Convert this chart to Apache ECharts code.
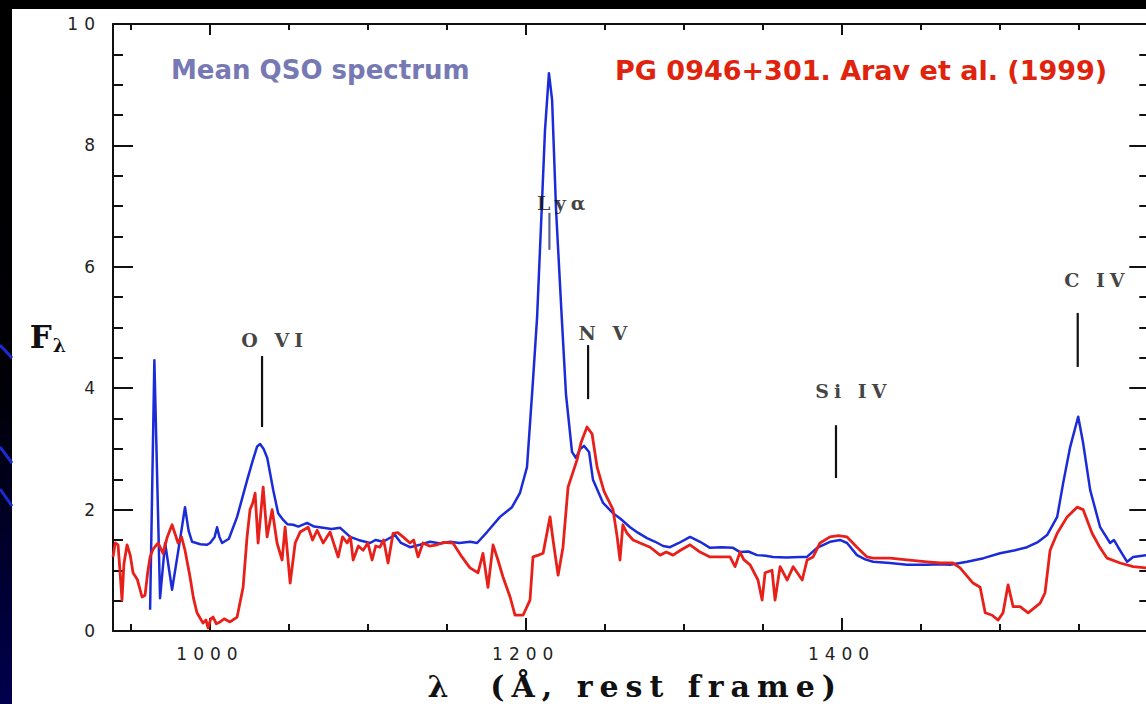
<!DOCTYPE html>
<html><head><meta charset="utf-8">
<script src="https://cdn.jsdelivr.net/npm/echarts@6/dist/echarts.min.js"></script>
<style>
html,body{margin:0;padding:0;background:#fff;}
#c{width:1146px;height:704px;}
svg text[style*="tkfont"]{letter-spacing:6px;}
svg text[style*="lblfont"]{letter-spacing:5px;}
svg text[style*="ttlfont"]{letter-spacing:7px;}
</style></head><body><div id="c"></div>
<script>
// ---- data (wavelength in Angstrom, flux F_lambda) ----
const meanQSO = [[962.1,0.35],[964.8,4.46],[968.4,0.54],[971.6,1.45],[976.0,0.68],[979.8,1.30],[982.5,1.75],[984.2,2.04],[986.5,1.65],[988.7,1.47],[994.0,1.43],[998.0,1.42],[1000.1,1.45],[1003.0,1.55],[1004.5,1.71],[1006.0,1.55],[1007.7,1.45],[1012.0,1.52],[1017.2,1.88],[1023.6,2.49],[1027.0,2.80],[1029.9,3.04],[1031.8,3.08],[1034.0,3.00],[1036.3,2.85],[1040.1,2.32],[1043.2,1.94],[1046.4,1.83],[1049.0,1.76],[1052.7,1.75],[1056.0,1.72],[1061.5,1.78],[1066.0,1.72],[1071.7,1.70],[1077.0,1.68],[1082.5,1.70],[1088.8,1.55],[1094.0,1.50],[1101.4,1.45],[1105.0,1.50],[1109.6,1.47],[1113.0,1.52],[1117.2,1.58],[1121.0,1.45],[1126.7,1.38],[1133.0,1.42],[1139.4,1.47],[1146.0,1.44],[1152.1,1.47],[1158.0,1.45],[1164.8,1.47],[1169.2,1.45],[1175.5,1.63],[1183.7,1.88],[1191.3,2.04],[1196.3,2.27],[1200.8,2.70],[1204.6,4.13],[1207.2,5.17],[1210.1,6.94],[1212.2,8.25],[1214.7,9.19],[1216.7,8.75],[1219.2,6.94],[1222.8,5.17],[1225.5,3.90],[1229.3,2.95],[1231.8,2.85],[1234.5,3.00],[1236.9,3.05],[1240.1,2.95],[1242.6,2.49],[1249.0,2.11],[1255.3,1.94],[1260.0,1.85],[1266.1,1.71],[1271.0,1.62],[1276.8,1.53],[1282.0,1.47],[1287.0,1.40],[1291.4,1.38],[1297.0,1.45],[1304.1,1.55],[1310.4,1.47],[1316.7,1.37],[1324.0,1.38],[1331.3,1.37],[1335.7,1.30],[1341.0,1.31],[1346.5,1.25],[1352.0,1.24],[1356.6,1.22],[1365.0,1.21],[1373.7,1.22],[1378.1,1.22],[1384.5,1.37],[1392.7,1.47],[1399.0,1.50],[1403.5,1.45],[1409.8,1.25],[1415.0,1.18],[1420.0,1.14],[1430.7,1.12],[1441.5,1.09],[1454.2,1.09],[1462.0,1.10],[1468.7,1.09],[1479.5,1.14],[1490.0,1.20],[1500.4,1.28],[1510.0,1.33],[1517.5,1.38],[1524.0,1.46],[1530.2,1.58],[1536.6,1.88],[1540.4,2.44],[1544.8,3.03],[1549.9,3.53],[1553.0,3.10],[1557.5,2.32],[1563.8,1.71],[1570.1,1.45],[1572.5,1.50],[1575.2,1.38],[1580.9,1.14],[1584.7,1.22],[1592.9,1.25]];

const pg0946 = [[938.6,1.22],[940.0,1.45],[941.8,1.42],[943.0,1.00],[944.3,0.51],[945.5,1.10],[947.5,1.42],[949.5,1.25],[951.3,0.96],[954.0,0.85],[957.0,0.56],[958.9,0.59],[960.5,0.95],[962.1,1.22],[964.0,1.35],[967.2,1.45],[970.3,1.28],[973.0,1.55],[976.0,1.75],[979.8,1.45],[982.0,1.55],[984.2,1.33],[987.4,0.89],[989.5,0.55],[991.8,0.30],[995.6,0.13],[997.5,0.18],[998.8,0.05],[1000.5,0.20],[1002.0,0.23],[1004.0,0.12],[1006.4,0.15],[1009.0,0.20],[1012.7,0.15],[1017.2,0.23],[1021.0,0.72],[1023.5,1.55],[1025.4,2.00],[1027.0,2.10],[1028.6,2.27],[1030.5,1.45],[1033.7,2.37],[1036.2,1.55],[1039.4,2.00],[1042.5,1.45],[1045.7,1.17],[1047.6,1.71],[1050.8,0.79],[1054.0,1.45],[1057.1,1.63],[1062.2,1.71],[1065.0,1.50],[1067.9,1.66],[1071.7,1.45],[1076.1,1.63],[1081.2,1.22],[1084.0,1.55],[1086.9,1.45],[1089.0,1.55],[1090.7,1.17],[1094.0,1.40],[1097.0,1.33],[1100.0,1.45],[1102.7,1.17],[1105.0,1.40],[1107.7,1.38],[1110.0,1.50],[1112.8,1.12],[1116.0,1.61],[1119.0,1.62],[1122.3,1.55],[1126.7,1.45],[1129.0,1.50],[1131.8,1.22],[1134.9,1.45],[1139.0,1.40],[1143.8,1.42],[1148.0,1.46],[1153.9,1.45],[1159.6,1.22],[1164.7,1.04],[1169.8,0.96],[1172.9,1.28],[1176.1,0.72],[1179.3,1.42],[1182.4,1.17],[1185.6,0.89],[1190.1,0.56],[1193.2,0.26],[1198.3,0.26],[1202.7,0.51],[1204.6,1.22],[1208.0,1.25],[1211.0,1.28],[1215.4,1.88],[1217.3,1.50],[1220.5,0.92],[1223.6,1.38],[1226.8,2.37],[1232.5,2.82],[1235.0,3.10],[1238.8,3.36],[1242.0,3.25],[1245.2,2.70],[1249.6,2.30],[1255.3,2.00],[1257.9,1.55],[1259.7,1.17],[1261.5,1.75],[1264.2,1.61],[1268.0,1.50],[1272.4,1.45],[1278.8,1.38],[1285.1,1.25],[1289.0,1.30],[1293.3,1.25],[1298.0,1.33],[1304.1,1.42],[1310.4,1.30],[1316.7,1.22],[1323.0,1.22],[1329.4,1.22],[1332.6,1.06],[1335.7,1.30],[1338.0,1.18],[1342.1,1.09],[1347.1,0.84],[1349.7,0.51],[1351.6,0.96],[1356.0,1.00],[1357.9,0.51],[1361.1,1.06],[1365.6,0.84],[1369.4,1.06],[1375.1,0.84],[1378.2,1.17],[1382.0,1.22],[1386.4,1.45],[1392.7,1.55],[1398.0,1.57],[1403.5,1.55],[1409.8,1.38],[1416.2,1.22],[1420.0,1.20],[1430.7,1.20],[1441.5,1.17],[1454.2,1.14],[1462.4,1.12],[1470.6,1.12],[1475.1,1.04],[1483.3,0.79],[1487.8,0.72],[1491.0,0.30],[1495.4,0.26],[1499.2,0.18],[1502.3,0.30],[1505.5,0.76],[1508.7,0.40],[1513.1,0.40],[1518.2,0.30],[1525.8,0.46],[1528.9,0.63],[1532.1,1.33],[1536.6,1.61],[1542.9,1.88],[1549.2,2.04],[1553.0,2.00],[1558.7,1.61],[1563.8,1.37],[1568.2,1.20],[1576.5,1.12],[1584.7,1.06],[1592.9,1.04]];

// emission line markers
const lineNames  = ['O VI', 'Ly\u03b1', 'N V', 'Si IV', 'C IV'];
const lineWave   = [1033, 1215, 1239.5, 1396.5, 1549.6];
const lineTop    = [4.53, 6.89, 4.71, 3.39, 5.24];
const lineBottom = [3.36, 6.28, 3.82, 2.52, 4.35];
const labelWave  = [1041.0, 1224.0, 1250.5, 1407.5, 1561.7];
const labelFlux  = [4.79, 7.05, 4.91, 3.95, 5.78];

// axis ticks
const xMajorTicks = [1000, 1200, 1400];
const xMinorTicks = [950, 1050, 1100, 1150, 1250, 1300, 1350, 1450, 1500, 1550];
const xMin = 938.6, xMax = 1600;
const yMin = 0, yMax = 10, yStep = 2;

const tickFont = "'DejaVu Sans', tkfont";
const labelFont = "'DejaVu Serif', lblfont";
const titleFont = "'DejaVu Serif', ttlfont";
const axisColor = '#111';

const chart = echarts.init(document.getElementById('c'), null, {renderer: 'svg', width: 1146, height: 704});

function xAx(pos, ticks, len, showLine, showLabel) {
  return {
    type: 'value', position: pos, min: xMin, max: xMax, gridIndex: 0,
    axisLine: {show: showLine, onZero: false, lineStyle: {color: axisColor, width: 2}},
    axisTick: {show: true, inside: true, length: len, customValues: ticks, lineStyle: {color: axisColor, width: 2}},
    axisLabel: {show: showLabel, customValues: ticks, margin: 14, fontFamily: tickFont, fontSize: 17, color: '#222',
                formatter: v => String(v)},
    splitLine: {show: false}
  };
}

const xAxes = [
  Object.assign(xAx('bottom', xMajorTicks, 13, true, true), {
    name: '\u03bb  (\u00c5, rest frame)', nameLocation: 'middle', nameGap: 40,
    nameTextStyle: {fontFamily: titleFont, fontWeight: 'bold', fontSize: 30, color: '#111', padding: [0, 0, 0, 0]}
  }),
  xAx('bottom', xMinorTicks, 7, false, false),
  xAx('top', xMajorTicks, 11, true, false),
  xAx('top', xMinorTicks, 6, false, false)
];

const yAxes = [
  {
    type: 'value', position: 'left', min: yMin, max: yMax, interval: yStep,
    axisLine: {show: true, lineStyle: {color: axisColor, width: 2}},
    axisTick: {show: true, inside: true, length: 20, lineStyle: {color: axisColor, width: 2}},
    minorTick: {show: true, splitNumber: 4, length: 10, lineStyle: {color: axisColor, width: 2}},
    axisLabel: {margin: 12, fontFamily: tickFont, fontSize: 17, color: '#222'},
    splitLine: {show: false},
    name: '{f|F}{s|\u03bb}', nameLocation: 'middle', nameRotate: 0, nameGap: 47,
    nameTextStyle: {
      padding: [18, 0, 0, 0],
      rich: {
        f: {fontFamily: "'DejaVu Serif'", fontWeight: 'bold', fontSize: 31, color: '#111'},
        s: {fontFamily: "'DejaVu Serif'", fontWeight: 'bold', fontSize: 19, color: '#111', padding: [16, 0, 0, 1]}
      }
    }
  },
  {
    type: 'value', position: 'right', min: yMin, max: yMax, interval: yStep,
    axisLine: {show: true, lineStyle: {color: axisColor, width: 2}},
    axisTick: {show: true, inside: true, length: 28, lineStyle: {color: axisColor, width: 2}},
    minorTick: {show: true, splitNumber: 4, length: 18, lineStyle: {color: axisColor, width: 2}},
    axisLabel: {show: false},
    splitLine: {show: false}
  }
];

const markerSeries = lineWave.map((w, i) => ({
  type: 'line', xAxisIndex: 0, yAxisIndex: 0, silent: true, symbol: 'none',
  data: [[w, lineTop[i]], [w, lineBottom[i]]],
  lineStyle: {color: i === 1 ? '#5b6098' : '#111', width: 2.2},
  z: 5
}));

const option = {
  animation: false,
  backgroundColor: '#ffffff',
  graphic: [
    {type: 'rect', shape: {x: 0, y: 0, width: 12, height: 704}, style: {fill: new echarts.graphic.LinearGradient(0, 0, 0, 1, [{offset: 0, color: '#000'}, {offset: 0.55, color: '#000006'}, {offset: 1, color: '#00004e'}])}, silent: true},
    {type: 'rect', shape: {x: 0, y: 0, width: 1146, height: 9}, style: {fill: '#000'}, silent: true},
    {type: 'line', shape: {x1: 0, y1: 345, x2: 12, y2: 358}, style: {stroke: '#1b2bd0', lineWidth: 3}, silent: true},
    {type: 'line', shape: {x1: 0, y1: 447, x2: 12, y2: 463}, style: {stroke: '#1b2bd0', lineWidth: 3}, silent: true},
    {type: 'line', shape: {x1: 0, y1: 489, x2: 12, y2: 506}, style: {stroke: '#1b2bd0', lineWidth: 3}, silent: true}
  ],
  title: [
    {text: 'Mean QSO spectrum', left: 166, top: 52, textStyle: {fontFamily: "'DejaVu Sans'", fontWeight: 'bold', fontSize: 26, color: '#7679b3'}},
    {text: 'PG 0946+301. Arav et al. (1999)', left: 610, top: 52, textStyle: {fontFamily: "'DejaVu Sans'", fontWeight: 'bold', fontSize: 27, color: '#e0230c'}}
  ],
  grid: {left: 113, right: -11.3, top: 24, bottom: 73, containLabel: false, outerBoundsMode: 'none'},
  xAxis: xAxes,
  yAxis: yAxes,
  series: [
    {name: 'Mean QSO spectrum', type: 'line', data: meanQSO, symbol: 'none', xAxisIndex: 0, yAxisIndex: 0,
     lineStyle: {color: '#1c2bd8', width: 2.5, join: 'round'}, z: 3},
    {name: 'PG 0946+301', type: 'line', data: pg0946, symbol: 'none', xAxisIndex: 0, yAxisIndex: 0,
     lineStyle: {color: '#e8201a', width: 2.8, join: 'round'}, z: 4},
    ...markerSeries,
    {type: 'scatter', xAxisIndex: 0, yAxisIndex: 0, silent: true, symbolSize: 1,
     itemStyle: {color: 'rgba(0,0,0,0)'},
     data: lineNames.map((n, i) => ({name: n, value: [labelWave[i], labelFlux[i]]})),
     label: {show: true, position: 'inside', formatter: '{b}', fontFamily: labelFont, fontWeight: 'bold', fontSize: 19, color: '#111'},
     z: 6}
  ]
};
chart.setOption(option);
</script></body></html>
